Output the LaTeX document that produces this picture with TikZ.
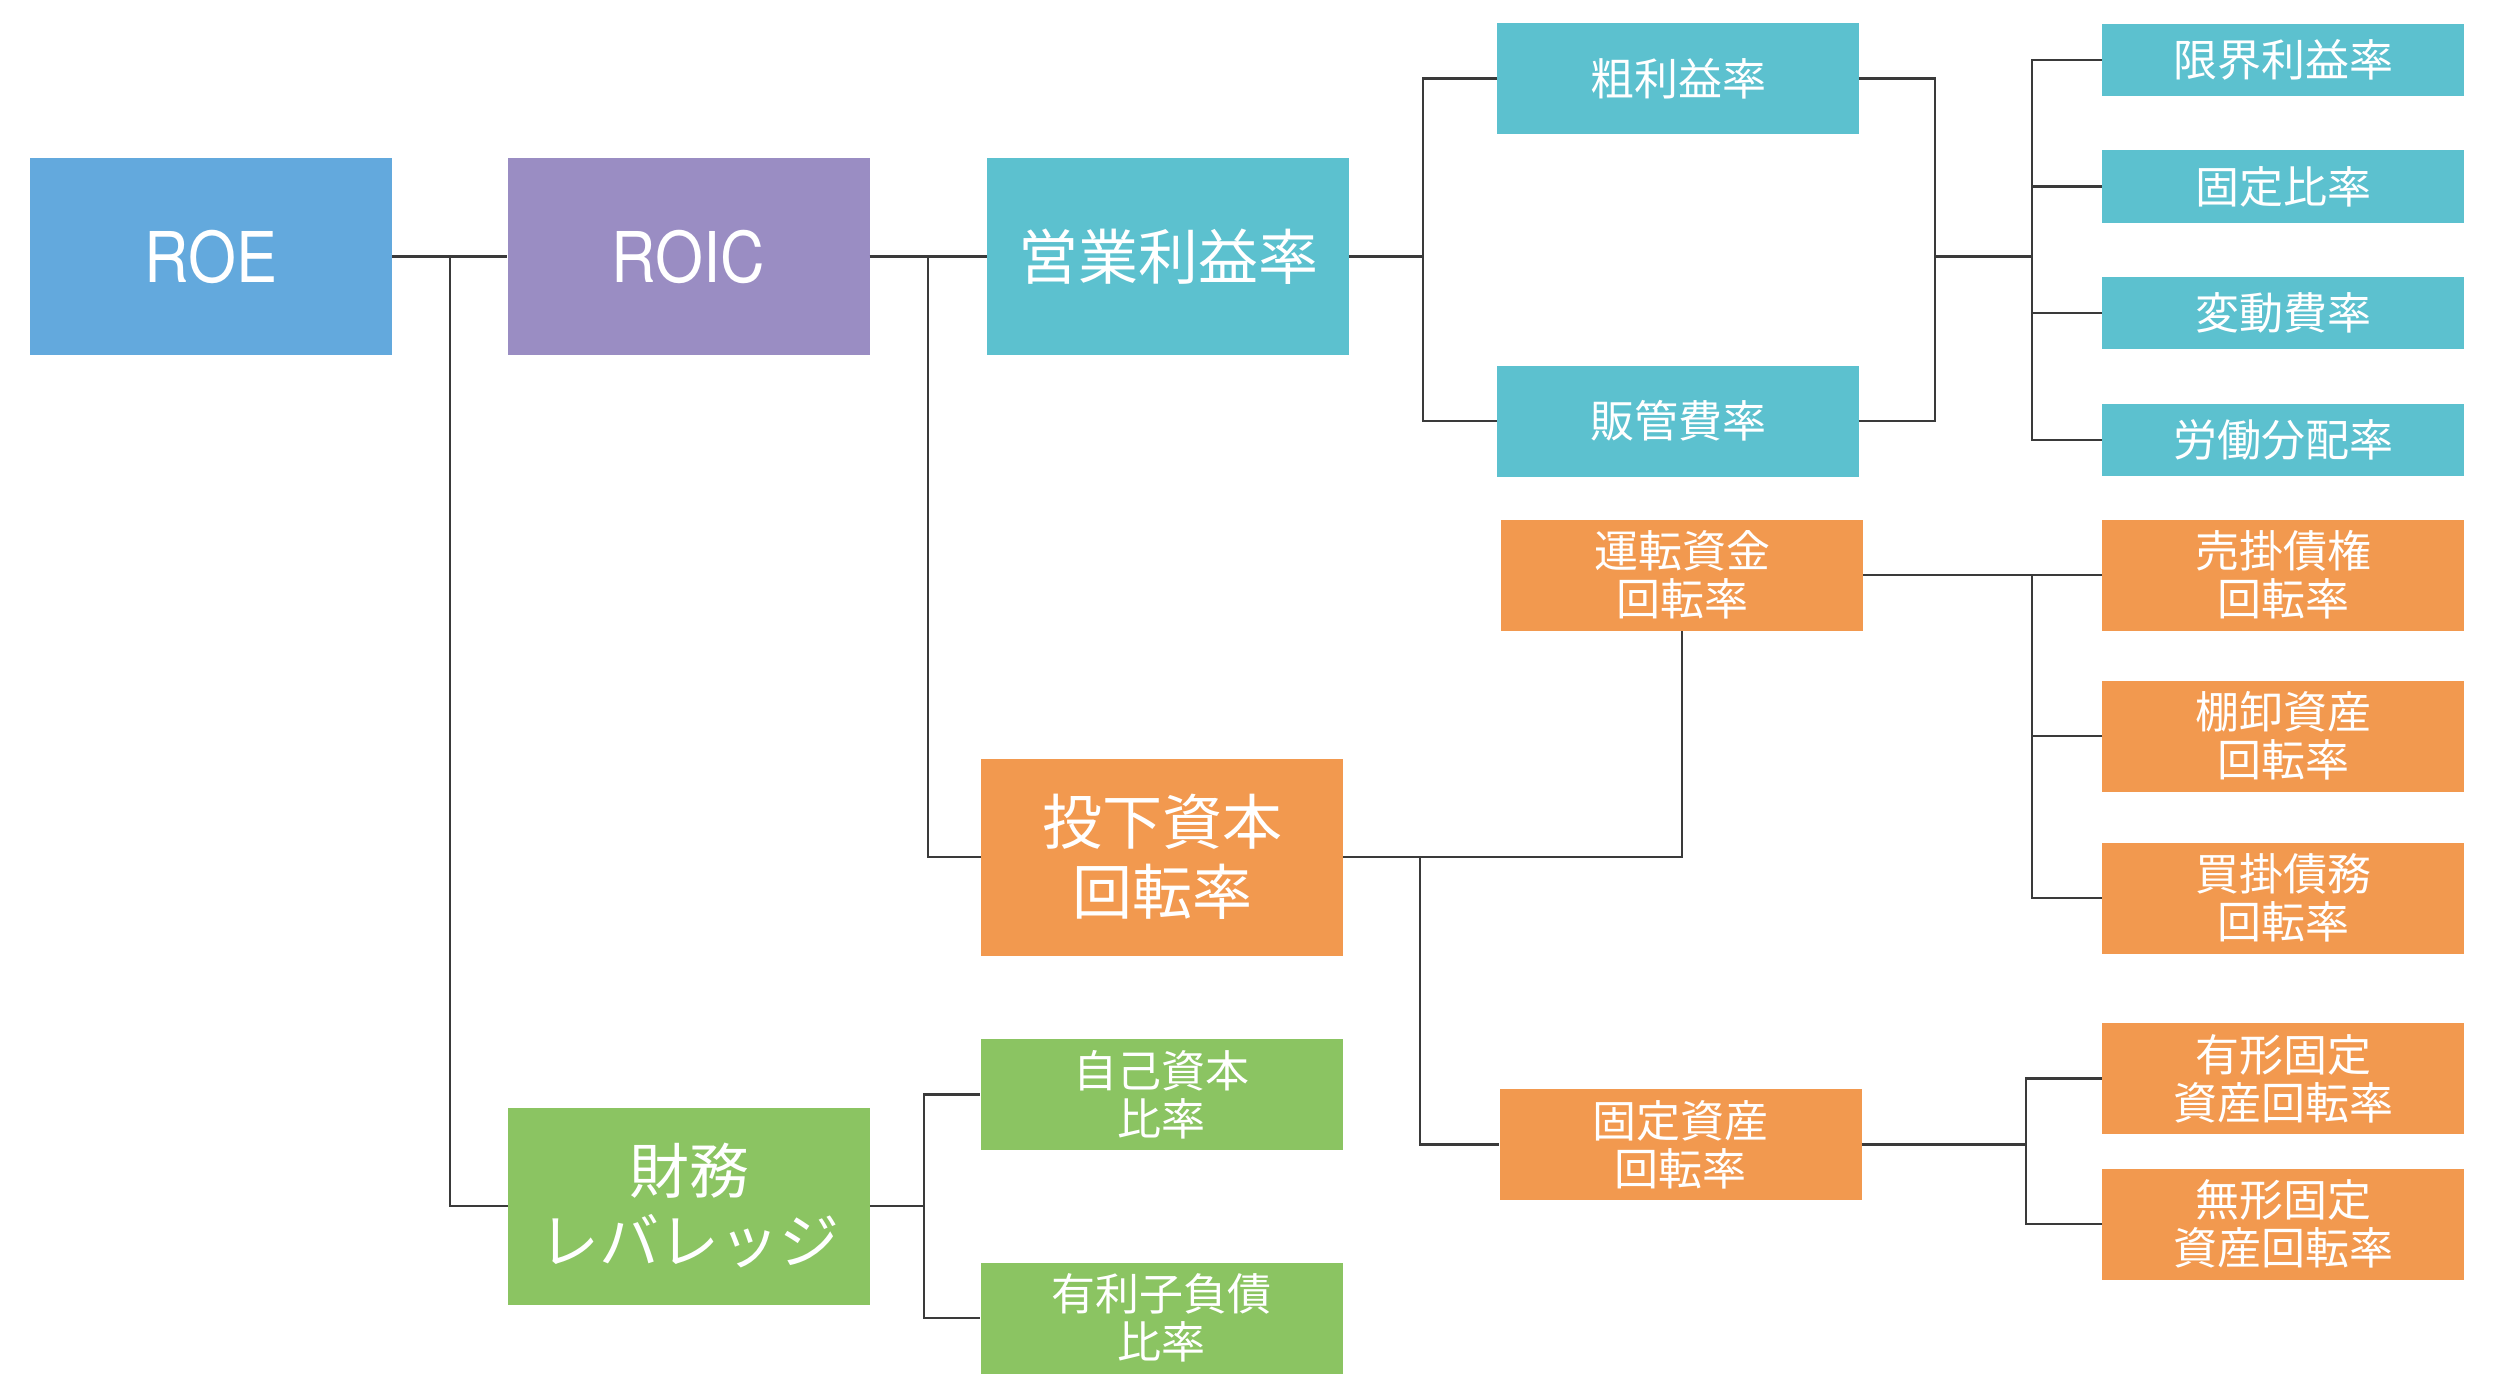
\documentclass[tikz,border=0pt]{standalone}
\usepackage{fontspec}
\setmainfont{Noto Sans CJK JP}
\newfontfamily\latinf[FakeStretch=0.88]{TeX Gyre Heros}
\usetikzlibrary{calc}
\definecolor{cblue}{HTML}{63A9DD}
\definecolor{cpurple}{HTML}{9A8DC3}
\definecolor{cteal}{HTML}{5CC1CF}
\definecolor{corange}{HTML}{F2994F}
\definecolor{cgreen}{HTML}{8BC462}
\definecolor{linec}{HTML}{3A3A3A}
\tikzset{
  bx/.style={draw=none, text=white, inner sep=0pt, minimum width=362pt, align=center},
  bigbox/.style={bx, minimum height=197pt, font=\fontsize{60}{70}\selectfont},
  smallbox/.style={bx, minimum height=111pt, font=\fontsize{44}{48}\selectfont},
  thinbox/.style={bx, minimum height=72pt, font=\fontsize{44}{48}\selectfont},
  lnk/.style={draw=linec, line width=2.3pt},
}
\begin{document}
\begin{tikzpicture}[x=1pt,y=-1pt]
\useasboundingbox (0,0) rectangle (2500,1386);
% nodes
\node[bigbox, fill=cblue, font=\latinf\fontsize{70}{74}\selectfont] (roe) at (211,256.5) {ROE};
\node[bigbox, fill=cpurple, font=\latinf\fontsize{70}{74}\selectfont] (roic) at (688.5,256.5) {ROIC};
\node[bigbox, fill=cteal] (opm) at (1168,256.5) {営業利益率};
\node[smallbox, fill=cteal] (gross) at (1678,78.5) {粗利益率};
\node[smallbox, fill=cteal] (sga) at (1678,421) {販管費率};
\node[thinbox, fill=cteal] (r1) at (2283,60) {限界利益率};
\node[thinbox, fill=cteal] (r2) at (2283,186.5) {固定比率};
\node[thinbox, fill=cteal] (r3) at (2283,313) {変動費率};
\node[thinbox, fill=cteal] (r4) at (2283,440) {労働分配率};
\node[smallbox, fill=corange] (wc) at (1682,575) {運転資金\\回転率};
\node[smallbox, fill=corange] (ar) at (2283,575) {売掛債権\\回転率};
\node[smallbox, fill=corange] (inv) at (2283,736) {棚卸資産\\回転率};
\node[smallbox, fill=corange] (ap) at (2283,898) {買掛債務\\回転率};
\node[bigbox, fill=corange] (ict) at (1162,857) {投下資本\\回転率};
\node[smallbox, fill=corange] (fa) at (1680.5,1144.5) {固定資産\\回転率};
\node[smallbox, fill=corange] (tfa) at (2283,1078.5) {有形固定\\資産回転率};
\node[smallbox, fill=corange] (ifa) at (2283,1224) {無形固定\\資産回転率};
\node[bigbox, fill=cgreen] (fin) at (689,1206) {財務\\レバレッジ};
\node[smallbox, fill=cgreen] (eq) at (1161.5,1094.5) {自己資本\\比率};
\node[smallbox, fill=cgreen] (debt) at (1161.5,1318) {有利子負債\\比率};
% junction points
\coordinate (j1) at (450,256.5);
\coordinate (j2) at (928,256.5);
\coordinate (j3) at (1423,256.5);
\coordinate (j4) at (1935,256.5);
\coordinate (j5) at (2032,256.5);
\coordinate (j6) at (2032,575);
\coordinate (j7) at (1420,857);
\coordinate (j8) at (924,1206);
\coordinate (j9) at (2026,1144.5);
% connectors
\draw[lnk] (roe.east) -- (roic.west);
\draw[lnk] (j1) |- (fin.west);
\draw[lnk] (roic.east) -- (opm.west);
\draw[lnk] (j2) |- (ict.west);
\draw[lnk] (opm.east) -- (j3);
\draw[lnk] (j3) |- (gross.west);
\draw[lnk] (j3) |- (sga.west);
\draw[lnk] (gross.east) -| (j4);
\draw[lnk] (sga.east) -| (j4);
\draw[lnk] (j4) -- (j5);
\draw[lnk] (j5) |- (r1.west);
\draw[lnk] (j5) |- (r2.west);
\draw[lnk] (j5) |- (r3.west);
\draw[lnk] (j5) |- (r4.west);
\draw[lnk] (ict.east) -| (wc.south);
\draw[lnk] (j7) |- (fa.west);
\draw[lnk] (wc.east) -- (ar.west);
\draw[lnk] (j6) |- (inv.west);
\draw[lnk] (j6) |- (ap.west);
\draw[lnk] (fin.east) -- (j8);
\draw[lnk] (j8) |- (eq.west);
\draw[lnk] (j8) |- (debt.west);
\draw[lnk] (fa.east) -- (j9);
\draw[lnk] (j9) |- (tfa.west);
\draw[lnk] (j9) |- (ifa.west);
\end{tikzpicture}
\end{document}
